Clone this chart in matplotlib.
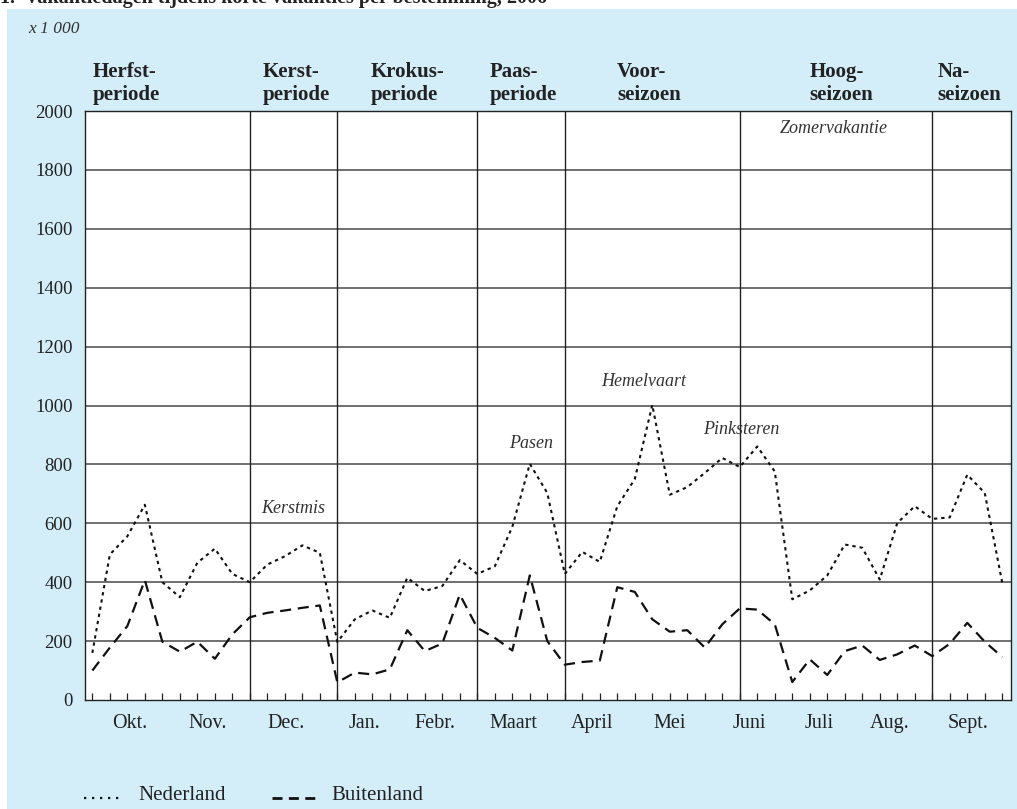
import matplotlib
matplotlib.use("Agg")
import matplotlib.pyplot as plt
from matplotlib.lines import Line2D
from matplotlib.transforms import blended_transform_factory

# ---------------- data ----------------
weeks = list(range(53))
nederland = [160, 494, 556, 663, 400, 349, 466, 514, 428, 400,
             460, 488, 525, 500, 197, 274, 304, 279, 415, 370,
             387, 475, 428, 454, 588, 802, 703, 428, 503, 469,
             658, 750, 1002, 697, 723, 771, 822, 791, 861, 776,
             342, 372, 423, 528, 517, 409, 601, 658, 615, 620,
             765, 703, 398]
buitenland = [100, 178, 251, 407, 198, 164, 198, 140, 223, 281,
              296, 304, 313, 321, 60, 93, 87, 104, 237, 166,
              192, 358, 245, 211, 168, 423, 200, 120, 129, 134,
              383, 367, 274, 232, 237, 178, 257, 311, 307, 257,
              61, 138, 85, 166, 185, 136, 155, 185, 149, 191,
              262, 198, 146]

month_labels = ["Okt.", "Nov.", "Dec.", "Jan.", "Febr.", "Maart",
                "April", "Mei", "Juni", "Juli", "Aug.", "Sept."]
month_pos = [2.15, 6.61, 11.07, 15.53, 19.58, 24.04,
             28.55, 32.98, 37.53, 41.53, 45.58, 50.04]

period_lines = [9, 14, 22, 27, 37, 48]
period_labels = ["Herfst-\nperiode", "Kerst-\nperiode", "Krokus-\nperiode",
                 "Paas-\nperiode", "Voor-\nseizoen", "Hoog-\nseizoen", "Na-\nseizoen"]
period_label_x = [-0.01, 9.74, 15.92, 22.69, 29.99, 41.0, 48.28]

holiday_labels = ["Kerstmis", "Pasen", "Hemelvaart", "Pinksteren", "Zomervakantie"]
holiday_x = [9.64, 23.8, 29.1, 34.9, 39.3]
holiday_y = [650, 870, 1080, 920, 1940]

y_ticks = list(range(0, 2001, 200))

# ---------------- style ----------------
BG = "#d3edf9"
INK = "#222222"
plt.rcParams["font.family"] = ["Liberation Serif", "DejaVu Serif"]

W, H = 1017, 809
fig = plt.figure(figsize=(W / 100, H / 100), dpi=100)
fig.patch.set_facecolor("white")

# light blue panel
panel = fig.add_axes([7 / W, 0, 1 - 7 / W, 1 - 9 / H])
panel.set_facecolor(BG)
panel.set_xticks([]); panel.set_yticks([])
for s in panel.spines.values():
    s.set_visible(False)
panel.set_zorder(0)

left, right, top, bottom = 85, 1011, 111, 700
ax = fig.add_axes([left / W, 1 - bottom / H, (right - left) / W, (bottom - top) / H])
ax.set_zorder(1)
ax.set_facecolor("white")
ax.set_xlim(-0.42, 52.5)
ax.set_ylim(0, 2000)

for v in y_ticks[1:-1]:
    ax.axhline(v, color="#6f6f6f", lw=1.4, zorder=1)
for v in period_lines:
    ax.axvline(v, color=INK, lw=1.0, zorder=1)

ax.plot(weeks, nederland, color="#111111", lw=1.5, dashes=(1.6, 1.9), zorder=3)
ax.plot(weeks, buitenland, color="#111111", lw=1.6, dashes=(5.0, 3.0), zorder=3)

for s in ax.spines.values():
    s.set_color(INK)
    s.set_linewidth(1.0)

ax.set_yticks(y_ticks)
ax.set_yticklabels([str(v) for v in y_ticks], fontsize=13.5, color=INK)
ax.tick_params(axis="y", length=0, pad=9)

ax.set_xticks(weeks)
ax.set_xticklabels([])
ax.tick_params(axis="x", which="major", direction="in", length=5, width=0.9, color=INK)
ax.set_xticks(month_pos, minor=True)
ax.set_xticklabels(month_labels, minor=True, fontsize=14.5, color=INK)
ax.tick_params(axis="x", which="minor", length=0, pad=10)

tr = blended_transform_factory(ax.transData, ax.transAxes)
for lbl, x in zip(period_labels, period_label_x):
    ax.text(x, 1 + 6 / 589, lbl, transform=tr, ha="left", va="bottom",
            fontsize=15, fontweight="bold", color=INK, linespacing=1.2)

for lbl, x, y in zip(holiday_labels, holiday_x, holiday_y):
    ax.text(x, y, lbl, ha="left", va="center", fontsize=13, style="italic",
            color="#333333", zorder=4)

fig.text(28 / W, 1 - 29 / H, "x 1 000", ha="left", va="center", fontsize=12.5,
         style="italic", color="#333333")

fig.text(0 / W, 1 - 3 / H, "1.  Vakantiedagen tijdens korte vakanties per bestemming, 2006",
         ha="left", va="baseline", fontsize=14.5, fontweight="bold", color=INK)

# legend (drawn in figure pixel space)
ly = 1 - 795 / H
fig.add_artist(Line2D([84 / W, 124 / W], [ly - 3 / H, ly - 3 / H], transform=fig.transFigure,
                      color="#111111", lw=1.6, dashes=(1.0, 2.6)))
fig.text(138 / W, ly, "Nederland", ha="left", va="center", fontsize=15, color=INK)
fig.add_artist(Line2D([272 / W, 316 / W], [ly - 3 / H, ly - 3 / H], transform=fig.transFigure,
                      color="#111111", lw=2.0, dashes=(3.6, 2.3)))
fig.text(331 / W, ly, "Buitenland", ha="left", va="center", fontsize=15, color=INK)

fig.savefig("out.png", dpi=100, facecolor=fig.get_facecolor())
